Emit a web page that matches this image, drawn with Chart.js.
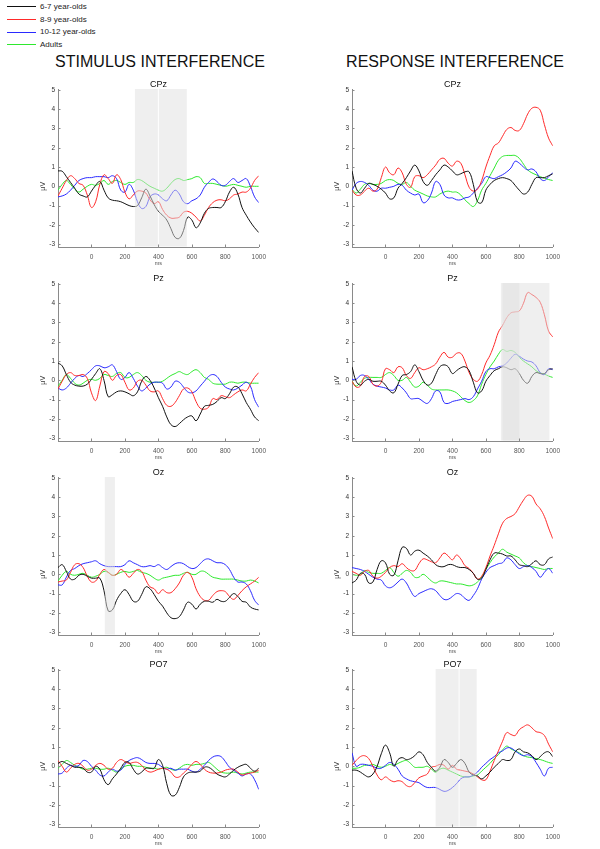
<!DOCTYPE html>
<html>
<head>
<meta charset="utf-8">
<script src="https://cdn.jsdelivr.net/npm/chart.js@4.4.0/dist/chart.umd.min.js"></script>
<style>
  body { margin: 0; background: #fff; width: 600px; height: 849px; overflow: hidden; position: relative;
         font-family: "Liberation Sans", Arial, sans-serif; }
  canvas { position: absolute; }
  .key { position: absolute; left: 7px; height: 12px; font-size: 8px; font-weight: normal; line-height: 12px; color: #222; }
  .key i { display: inline-block; width: 29px; height: 1px; vertical-align: middle; margin-right: 4px; }
  .hdr { position: absolute; top: 54px; font-size: 16px; line-height: 16px; color: #111; transform: translateX(-50%); white-space: nowrap; }
</style>
</head>
<body>
<div id="keys"></div>
<div class="hdr" style="left:160px">STIMULUS INTERFERENCE</div>
<div class="hdr" style="left:455px">RESPONSE INTERFERENCE</div>

<canvas id="stimCPz" width="236" height="191" style="left:36px;top:80px"></canvas>
<canvas id="respCPz" width="236" height="191" style="left:330px;top:80px"></canvas>
<canvas id="stimPz" width="236" height="191" style="left:36px;top:274px"></canvas>
<canvas id="respPz" width="236" height="191" style="left:330px;top:274px"></canvas>
<canvas id="stimOz" width="236" height="191" style="left:36px;top:468px"></canvas>
<canvas id="respOz" width="236" height="191" style="left:330px;top:468px"></canvas>
<canvas id="stimPO7" width="236" height="191" style="left:36px;top:660px"></canvas>
<canvas id="respPO7" width="236" height="191" style="left:330px;top:660px"></canvas>

<script>
const groups = ['6-7 year-olds', '8-9 year-olds', '10-12 year-olds', 'Adults'];
const groupColors = ['#111111', '#ff2a2a', '#2a2aff', '#2ee82e'];

const times = [-200,-175,-150,-125,-100,-75,-50,-25,0,25,50,75,100,125,150,175,200,225,250,275,300,325,350,375,
  400,425,450,475,500,525,550,575,600,625,650,675,700,725,750,775,800,825,850,875,900,925,950,975,1000];
const xTicks = [0, 200, 400, 600, 800, 1000];
const yTicks = [-3, -2, -1, 0, 1, 2, 3, 4, 5];

// stimulus interference, CPz
const stim_CPz_67 = [0.8,0.78,0.5,0.2,-0.1,-0.4,-0.5,-0.55,-0.25,0.05, 0.25,-0.2,-0.6,-0.72,-0.75,-0.8,-0.9,-1.0,-1.05,-1.0, -0.6,-0.15,-0.5,-0.95,-1.3,-1.5,-1.75,-2.2,-2.65,-2.7, -2.3,-1.6,-1.75,-2.15,-1.9,-1.4,-1.15,-1.1,-1.1,-1.1, -0.8,-0.3,-0.05,-0.4,-1.1,-1.5,-1.85,-2.15,-2.4];
const stim_CPz_89 = [-0.5,-0.1,0.3,0.55,0.4,0.15,0.05,-0.45,-1.1,-0.8, 0.1,0.6,0.4,0.15,0.6,0.35,-0.3,-0.65,-0.45,-0.25, -0.25,-0.35,-0.7,-0.9,-0.8,-1.2,-1.5,-1.65,-1.65,-1.6, -1.35,-1.3,-1.4,-1.6,-1.8,-1.5,-1.1,-0.85,-0.72,-0.7, -0.75,-0.65,-0.45,-0.4,-0.3,-0.3,-0.1,0.3,0.55];
const stim_CPz_1012 = [-0.55,-0.5,-0.4,-0.2,0.05,0.3,0.4,0.45,0.45,0.5, 0.5,0.5,0.45,0.55,0.4,-0.2,-0.3,0.1,-0.2,-0.8, -1.15,-1.05,-0.55,-0.4,-0.45,-0.65,-0.75,-0.45,-0.2,-0.4, -0.8,-0.9,-0.75,-0.65,-0.45,-0.05,0.2,0.38,0.25,0.05, 0.05,0.25,0.4,0.2,0.3,0.4,0.0,-0.55,-0.85];
const stim_CPz_adult = [-0.2,0.1,0.3,0.1,-0.15,-0.3,-0.15,0.0,0.1,0.05, 0.15,0.3,0.1,0.25,0.3,0.2,0.1,0.2,0.2,0.35, 0.3,0.15,0.0,-0.1,-0.2,-0.25,-0.1,0.15,0.35,0.4, 0.3,0.35,0.4,0.5,0.45,0.15,0.15,0.15,0.1,0.05, 0.0,0.05,0.1,0.05,0.0,-0.05,0.0,0.0,0.0];

// response interference, CPz
const resp_CPz_67 = [0.8,-0.1,-0.35,-0.1,0.15,0.1,0.0,-0.15,-0.35,-0.65, -0.6,-0.1,0.15,0.45,0.8,1.1,0.8,0.25,0.05,0.3, 0.6,0.85,1.1,1.0,0.8,0.6,0.65,0.75,0.75,0.1, -0.8,-0.85,-0.2,0.1,0.3,0.4,0.45,0.4,0.3,0.05, -0.2,-0.4,-0.3,0.1,0.45,0.45,0.45,0.55,0.65];
const resp_CPz_89 = [-0.2,-0.45,-0.45,-0.25,-0.1,-0.25,-0.15,0.45,1.0,0.7, 0.6,0.95,0.7,0.1,-0.05,0.5,0.55,0.45,0.6,0.85, 1.1,1.4,1.45,1.2,1.05,1.3,1.2,0.6,-0.05,-0.25, -0.15,0.3,1.0,1.6,2.1,2.25,2.6,2.95,3.05,2.9, 2.9,3.25,3.75,4.05,4.1,3.95,3.2,2.5,2.1];
const resp_CPz_1012 = [-0.2,0.15,0.25,0.2,0.05,-0.2,-0.25,-0.1,-0.1,-0.05, 0.0,0.1,0.05,-0.2,-0.35,-0.45,-0.4,-0.85,-0.75,-0.35, 0.25,0.1,-0.45,-0.6,-0.6,-0.7,-0.7,-0.6,-0.55,-0.35, -0.1,0.15,0.5,0.45,0.4,0.5,0.6,0.75,0.95,1.3, 1.2,1.0,0.85,0.9,0.75,0.4,0.3,0.5,0.7];
const resp_CPz_adult = [-0.15,-0.35,-0.15,0.1,0.15,0.1,0.1,0.15,0.3,0.35, 0.3,0.15,0.1,0.2,0.0,-0.2,-0.3,-0.4,-0.5,-0.55, -0.55,-0.4,-0.3,-0.25,-0.3,-0.3,-0.45,-0.7,-0.9,-1.05, -0.75,-0.2,0.15,0.55,0.95,1.35,1.55,1.6,1.6,1.6, 1.45,1.15,0.85,0.7,0.6,0.5,0.42,0.35,0.3];

// stimulus interference, Pz
const stim_Pz_67 = [0.9,0.75,0.3,-0.1,-0.25,-0.3,-0.3,-0.2,0.05,0.35, 0.6,0.0,-0.85,-0.75,-0.6,-0.55,-0.6,-0.7,-0.8,-0.6, -0.05,0.2,0.0,-0.4,-0.9,-1.35,-1.9,-2.3,-2.4,-2.25, -2.05,-1.9,-1.85,-2.1,-1.75,-1.35,-1.3,-1.25,-1.1,-0.9, -0.95,-0.7,-0.35,-0.35,-0.7,-1.15,-1.5,-1.9,-2.1];
const stim_Pz_89 = [-0.45,-0.05,0.3,0.4,0.25,0.25,0.3,0.1,-0.65,-1.05, -0.3,0.45,0.35,0.0,0.25,0.3,-0.1,-0.5,-0.4,-0.05, 0.0,-0.25,-0.55,-0.6,-0.55,-0.95,-1.3,-1.35,-1.15,-0.8, -0.45,-0.4,-0.6,-1.1,-1.45,-1.5,-1.4,-0.95,-1.0,-0.8, -0.85,-0.9,-0.75,-0.6,-0.5,-0.55,-0.2,0.15,0.4];
const stim_Pz_1012 = [-0.4,-0.5,-0.4,-0.15,0.1,0.25,0.2,0.35,0.55,0.75, 0.75,0.65,0.7,0.8,0.45,0.05,0.15,0.4,0.1,-0.3, -0.55,-0.4,-0.2,-0.1,-0.1,-0.15,-0.45,-0.35,-0.05,-0.1, -0.35,-0.6,-0.65,-0.55,-0.3,-0.05,0.2,0.3,0.2,-0.1, -0.35,-0.45,-0.5,-0.4,-0.25,-0.1,-0.3,-1.0,-1.4];
const stim_Pz_adult = [-0.3,0.0,0.3,0.1,-0.15,-0.25,-0.15,0.0,0.05,0.0, 0.1,0.3,0.25,0.2,0.35,0.4,0.15,0.15,0.3,0.4, 0.25,0.0,-0.1,-0.1,-0.1,-0.05,0.1,0.25,0.35,0.45, 0.35,0.3,0.45,0.55,0.4,0.15,0.05,-0.15,-0.2,-0.2, -0.2,-0.1,-0.1,-0.15,-0.1,-0.1,-0.15,-0.15,-0.15];

// response interference, Pz
const resp_Pz_67 = [0.7,-0.05,-0.25,-0.05,0.05,-0.05,-0.05,-0.05,-0.25,-0.55, -0.65,-0.2,0.25,0.3,0.45,0.8,0.45,0.0,-0.25,-0.15, 0.3,0.7,0.8,0.7,0.35,0.5,0.65,0.7,0.5,-0.1, -0.65,-0.55,-0.05,0.25,0.5,0.6,0.7,0.65,0.55,0.6, 0.35,0.0,-0.15,0.2,0.4,0.35,0.35,0.55,0.6];
const resp_Pz_89 = [-0.05,-0.35,-0.3,0.2,0.2,-0.2,-0.3,-0.1,0.6,0.55, 0.4,0.7,0.65,0.25,0.1,0.4,0.65,0.55,0.6,0.7, 0.85,1.2,1.45,1.2,1.2,1.4,1.4,1.0,0.4,0.05, -0.05,0.3,0.9,1.3,1.85,2.5,2.85,3.25,3.5,3.55, 3.6,4.0,4.55,4.45,4.3,4.05,3.4,2.55,2.25];
const resp_Pz_1012 = [0.05,0.05,0.25,0.25,0.05,-0.2,-0.3,-0.35,-0.4,-0.5, -0.5,-0.25,-0.4,-0.65,-0.95,-0.95,-0.95,-1.1,-1.2,-0.95, -0.55,-0.6,-1.15,-1.2,-1.1,-1.05,-1.0,-0.95,-1.0,-0.85, -0.45,-0.05,0.45,0.6,0.6,0.7,0.75,0.9,1.15,1.35, 1.25,1.1,1.0,0.95,0.75,0.4,0.3,0.6,0.55];
const resp_Pz_adult = [-0.05,-0.3,-0.1,0.1,0.15,0.15,0.15,0.15,0.3,0.4, 0.25,0.0,0.0,0.15,-0.1,-0.35,-0.3,-0.1,-0.25,-0.45, -0.5,-0.5,-0.5,-0.5,-0.55,-0.65,-0.85,-1.05,-1.15,-1.05, -0.8,-0.2,0.3,0.7,1.0,1.35,1.6,1.5,1.55,1.45, 1.2,1.0,0.85,0.7,0.5,0.38,0.32,0.22,0.15];

// stimulus interference, Oz
const stim_Oz_67 = [0.35,0.5,0.15,-0.25,-0.25,-0.05,0.0,-0.1,-0.2,-0.2, -0.2,-0.85,-1.9,-1.85,-1.35,-1.0,-0.8,-1.05,-1.4,-1.4, -1.05,-0.65,-0.75,-1.05,-1.4,-1.65,-2.0,-2.25,-2.3,-2.2, -1.85,-1.45,-1.55,-1.8,-1.55,-1.4,-1.4,-1.45,-1.3,-1.4, -1.4,-1.2,-1.0,-1.15,-1.4,-1.45,-1.7,-1.8,-1.85];
const stim_Oz_89 = [-0.4,-0.35,-0.3,0.1,0.5,0.55,0.35,-0.1,-0.4,-0.35, 0.0,0.25,0.1,-0.05,0.0,0.25,0.1,-0.15,0.05,0.25, 0.15,-0.3,-0.65,-0.75,-1.0,-0.8,-0.95,-0.95,-0.75,-0.45, -0.05,0.1,-0.15,-0.75,-1.15,-1.35,-1.35,-1.1,-0.9,-0.85, -0.9,-1.15,-1.3,-1.1,-0.85,-0.65,-0.5,-0.35,-0.15];
const stim_Oz_1012 = [-0.55,-0.55,-0.15,0.2,0.3,0.45,0.55,0.6,0.65,0.7, 0.55,0.45,0.4,0.4,0.4,0.4,0.5,0.7,0.6,0.5, 0.4,0.4,0.45,0.4,0.5,0.35,0.25,0.4,0.55,0.6, 0.55,0.4,0.3,0.35,0.55,0.75,0.8,0.7,0.6,0.6, 0.5,0.25,-0.15,-0.4,-0.4,-0.5,-0.85,-1.35,-1.6];
const stim_Oz_adult = [-0.35,-0.05,0.15,0.0,-0.05,0.0,0.05,-0.05,-0.15,-0.1, 0.0,0.15,0.1,-0.05,0.0,0.1,0.15,0.1,0.15,0.2, 0.1,0.05,-0.05,-0.2,-0.3,-0.2,-0.15,-0.1,-0.05,-0.05, 0.05,0.1,0.0,0.0,0.15,0.15,0.0,-0.15,-0.2,-0.25, -0.25,-0.25,-0.25,-0.3,-0.35,-0.35,-0.3,-0.35,-0.45];

// response interference, Oz
const resp_Oz_67 = [-0.45,-0.3,0.05,0.0,-0.45,-0.4,0.25,0.7,0.6,0.0, -0.05,0.7,1.4,1.35,1.0,1.2,1.25,1.1,0.95,0.75, 0.5,0.4,0.4,0.5,0.5,0.4,0.35,0.35,0.25,0.05, -0.25,-0.2,0.25,0.75,1.1,1.1,1.05,0.95,0.95,0.75, 0.5,0.45,0.4,0.55,0.7,0.5,0.5,0.8,0.9];
const resp_Oz_89 = [0.15,0.05,-0.05,0.15,0.2,-0.1,-0.2,-0.1,0.1,0.35, 0.45,0.4,0.55,0.35,0.2,0.2,0.55,0.8,0.75,0.65, 0.6,0.85,1.1,0.95,0.75,1.0,0.8,0.45,0.3,0.05, -0.25,-0.1,0.35,0.95,1.5,2.1,2.65,2.9,3.0,3.15, 3.5,3.85,4.1,4.05,3.65,3.4,3.0,2.4,1.85];
const resp_Oz_1012 = [0.35,0.3,0.25,0.15,0.0,-0.15,-0.25,-0.3,-0.6,-0.7, -0.6,-0.4,-0.25,-0.45,-0.85,-1.15,-1.0,-0.9,-0.8,-0.75, -0.85,-1.1,-1.3,-1.3,-1.15,-1.0,-1.05,-1.25,-1.35,-1.1, -0.75,-0.25,0.1,0.35,0.45,0.55,0.6,0.85,0.75,0.5, 0.3,0.4,0.45,0.35,0.15,-0.15,0.1,0.3,0.05];
const resp_Oz_adult = [0.0,-0.05,0.0,0.2,0.1,0.05,0.05,0.05,0.2,0.35, 0.1,-0.1,0.05,0.2,0.1,-0.15,-0.15,0.0,-0.15,-0.35, -0.45,-0.35,-0.35,-0.4,-0.45,-0.5,-0.5,-0.55,-0.6,-0.55, -0.4,-0.15,0.25,0.6,0.9,1.1,1.3,1.15,1.05,0.95, 0.85,0.6,0.45,0.4,0.35,0.3,0.25,0.3,0.3];

// stimulus interference, PO7
const stim_PO7_67 = [0.15,0.25,0.15,0.05,-0.05,-0.05,-0.1,-0.3,-0.3,0.0, -0.15,-0.7,-0.95,-0.65,-0.4,-0.1,0.2,0.2,-0.15,-0.4, -0.3,-0.1,-0.1,-0.1,0.35,0.05,-0.9,-1.5,-1.5,-1.1, -0.55,-0.35,-0.3,-0.3,-0.25,-0.05,-0.05,-0.2,-0.4,-0.5, -0.55,-0.4,-0.2,-0.05,0.05,0.1,-0.1,-0.25,-0.1];
const stim_PO7_89 = [0.3,0.0,-0.3,-0.1,0.1,0.15,0.0,-0.2,-0.15,0.05, 0.15,0.05,-0.15,-0.1,0.2,0.35,0.25,0.15,0.2,0.2, 0.05,-0.2,-0.3,-0.25,-0.15,-0.1,-0.15,-0.3,-0.55,-0.55, -0.35,-0.15,0.1,0.25,0.1,-0.15,-0.3,-0.35,-0.35,-0.3, -0.2,-0.15,-0.15,-0.3,-0.45,-0.4,-0.35,-0.3,-0.2];
const stim_PO7_1012 = [-0.4,-0.35,-0.1,0.05,0.0,0.05,0.3,0.25,0.0,-0.2, -0.45,-0.5,-0.3,-0.15,-0.25,-0.2,0.1,0.3,0.4,0.45, 0.35,0.2,0.15,0.15,0.1,-0.05,-0.15,-0.1,-0.2,-0.15, -0.15,-0.15,-0.25,-0.3,-0.15,0.05,0.3,0.48,0.55,0.5, 0.25,-0.05,-0.2,-0.35,-0.5,-0.4,-0.4,-0.7,-1.2];
const stim_PO7_adult = [-0.1,0.1,0.3,0.2,0.05,-0.05,-0.15,-0.15,-0.1,-0.1, -0.15,-0.15,-0.1,-0.2,-0.3,-0.15,0.0,0.05,0.05,0.0, 0.0,-0.05,-0.1,-0.1,-0.15,-0.1,-0.05,-0.15,-0.2,-0.1, 0.05,0.1,0.05,0.1,0.1,0.15,0.2,0.05,-0.15,-0.3, -0.35,-0.35,-0.3,-0.35,-0.4,-0.35,-0.3,-0.3,-0.3];

// response interference, PO7
const resp_PO7_67 = [-0.2,-0.2,-0.3,-0.45,-0.55,-0.4,0.0,0.65,1.1,0.7, 0.0,0.35,0.45,0.35,0.4,0.55,0.75,0.6,0.2,-0.05, -0.25,-0.05,0.35,0.2,-0.05,0.15,0.35,0.15,-0.3,-0.45, -0.5,-0.65,-0.5,-0.3,-0.05,0.15,0.35,0.3,0.35,0.75, 0.9,0.75,0.7,0.55,0.35,0.5,0.7,0.75,0.5];
const resp_PO7_89 = [0.05,0.3,0.5,0.55,0.4,0.0,-0.45,-0.7,-0.55,-0.7, -0.8,-0.75,-0.8,-1.0,-1.05,-0.85,-0.6,-0.5,-0.4,-0.05, 0.0,0.1,0.05,-0.15,0.05,-0.15,-0.2,-0.25,-0.3,-0.4, -0.55,-0.7,-0.7,-0.25,0.3,0.8,1.3,1.75,1.65,1.6, 1.9,2.05,2.15,2.0,1.8,1.75,1.6,1.15,0.75];
const resp_PO7_1012 = [0.7,0.0,0.1,0.1,0.05,0.0,-0.1,-0.1,0.05,0.2, 0.1,-0.15,-0.5,-0.65,-0.75,-0.8,-0.85,-1.0,-1.1,-1.1, -1.1,-1.2,-1.3,-1.25,-1.1,-0.9,-0.65,-0.55,-0.55,-0.45, -0.3,-0.05,0.15,0.35,0.5,0.7,0.8,0.95,0.95,0.8, 0.65,0.55,0.6,0.5,0.2,-0.15,-0.5,-0.1,-0.05];
const resp_PO7_adult = [-0.1,-0.1,-0.05,0.05,0.05,0.1,0.0,-0.05,0.0,0.1, 0.05,0.15,0.25,0.3,0.15,-0.05,-0.05,-0.05,0.0,-0.15, -0.3,-0.15,-0.1,-0.2,-0.3,-0.4,-0.5,-0.55,-0.55,-0.5, -0.45,-0.25,-0.05,0.15,0.4,0.6,0.85,1.05,0.9,0.8, 0.7,0.55,0.48,0.45,0.4,0.35,0.28,0.2,0.15];

// analysis windows (ms) shaded grey
const stimCPzWindows = [[260, 397], [403, 570]];
const respPzWindows = [[690, 980], [700, 800]];
const stimOzWindows = [[80, 140]];
const respPO7Windows = [[300, 437], [443, 545]];

const FONT = '"Liberation Sans", Arial, sans-serif';

// legend
const keys = document.getElementById('keys');
groups.forEach((g, i) => {
  const d = document.createElement('div');
  d.className = 'key';
  d.style.top = (1 + i * 12.6) + 'px';
  d.innerHTML = '<i style="background:' + groupColors[i] + '"></i>' + g;
  keys.appendChild(d);
});

// grey windows drawn over the traces
const shadePlugin = {
  id: 'shade',
  afterDatasetsDraw(chart, args, opts) {
    const { ctx, chartArea: a, scales: { x } } = chart;
    ctx.save();
    ctx.fillStyle = 'rgba(224,224,224,0.5)';
    (opts.windows || []).forEach(w => {
      const x0 = x.getPixelForValue(w[0]);
      const x1 = x.getPixelForValue(w[1]);
      ctx.fillRect(x0, a.top, x1 - x0, a.bottom - a.top - 0.5);
    });
    ctx.restore();
  }
};

// inward tick marks and the uV label next to zero
const axisPlugin = {
  id: 'axisMarks',
  afterDraw(chart) {
    const { ctx, chartArea: a, scales: { x, y } } = chart;
    ctx.save();
    ctx.strokeStyle = '#8a8a8a';
    ctx.lineWidth = 1;
    ctx.beginPath();
    xTicks.forEach(v => {
      const px = Math.round(x.getPixelForValue(v)) + 0.5;
      ctx.moveTo(px, a.bottom);
      ctx.lineTo(px, a.bottom - 2.5);
    });
    yTicks.forEach(v => {
      const py = Math.round(y.getPixelForValue(v)) + 0.5;
      ctx.moveTo(a.left, py);
      ctx.lineTo(a.left + 2.5, py);
    });
    ctx.stroke();
    ctx.translate(a.left - 15, y.getPixelForValue(0));
    ctx.rotate(-Math.PI / 2);
    ctx.fillStyle = '#333';
    ctx.font = '7px ' + FONT;
    ctx.textAlign = 'center';
    ctx.textBaseline = 'middle';
    ctx.fillText('µV', 0, 0);
    ctx.restore();
  }
};

function makePanel(id, title, series, windows) {
  const ctx = document.getElementById(id).getContext('2d');
  new Chart(ctx, {
    type: 'line',
    data: {
      datasets: series.map((vals, i) => ({
        label: groups[i],
        data: times.map((t, k) => ({ x: t, y: vals[k] })),
        borderColor: groupColors[i],
        borderWidth: 1,
        pointRadius: 0,
        tension: 0.4,
        fill: false
      }))
    },
    options: {
      responsive: false,
      animation: false,
      devicePixelRatio: 1,
      events: [],
      layout: { padding: { left: 0, right: 12, top: 0, bottom: 0 } },
      plugins: {
        legend: { display: false },
        tooltip: { enabled: false },
        title: {
          display: true, text: title, color: '#111', padding: 0, fullSize: false,
          font: { size: 9, family: FONT, weight: 'normal', lineHeight: 1 }
        },
        shade: { windows: windows }
      },
      scales: {
        x: {
          type: 'linear', min: -200, max: 1000,
          afterBuildTicks: s => { s.ticks = xTicks.map(v => ({ value: v })); },
          afterFit: s => { s.height = 24; },
          grid: { drawOnChartArea: false, drawTicks: false },
          border: { color: '#8a8a8a', width: 1 },
          ticks: { color: '#555', padding: 6, maxRotation: 0, autoSkip: false,
                   callback: v => String(v), font: { size: 6.5, family: FONT } },
          title: { display: true, text: 'ms', color: '#555', padding: { top: 0, bottom: 4.7 }, font: { size: 5.5, family: FONT } }
        },
        y: {
          min: -3.15, max: 5.05,
          afterBuildTicks: s => { s.ticks = yTicks.map(v => ({ value: v })); },
          afterFit: s => { s.width = 22; },
          grid: { drawOnChartArea: false, drawTicks: false },
          border: { color: '#8a8a8a', width: 1 },
          ticks: { color: '#333', padding: 3, callback: v => String(v), font: { size: 6.5, family: FONT } }
        }
      }
    },
    plugins: [shadePlugin, axisPlugin]
  });
}

makePanel('stimCPz', 'CPz', [stim_CPz_67, stim_CPz_89, stim_CPz_1012, stim_CPz_adult], stimCPzWindows);
makePanel('respCPz', 'CPz', [resp_CPz_67, resp_CPz_89, resp_CPz_1012, resp_CPz_adult], []);
makePanel('stimPz', 'Pz', [stim_Pz_67, stim_Pz_89, stim_Pz_1012, stim_Pz_adult], []);
makePanel('respPz', 'Pz', [resp_Pz_67, resp_Pz_89, resp_Pz_1012, resp_Pz_adult], respPzWindows);
makePanel('stimOz', 'Oz', [stim_Oz_67, stim_Oz_89, stim_Oz_1012, stim_Oz_adult], stimOzWindows);
makePanel('respOz', 'Oz', [resp_Oz_67, resp_Oz_89, resp_Oz_1012, resp_Oz_adult], []);
makePanel('stimPO7', 'PO7', [stim_PO7_67, stim_PO7_89, stim_PO7_1012, stim_PO7_adult], []);
makePanel('respPO7', 'PO7', [resp_PO7_67, resp_PO7_89, resp_PO7_1012, resp_PO7_adult], respPO7Windows);
</script>
</body>
</html>
